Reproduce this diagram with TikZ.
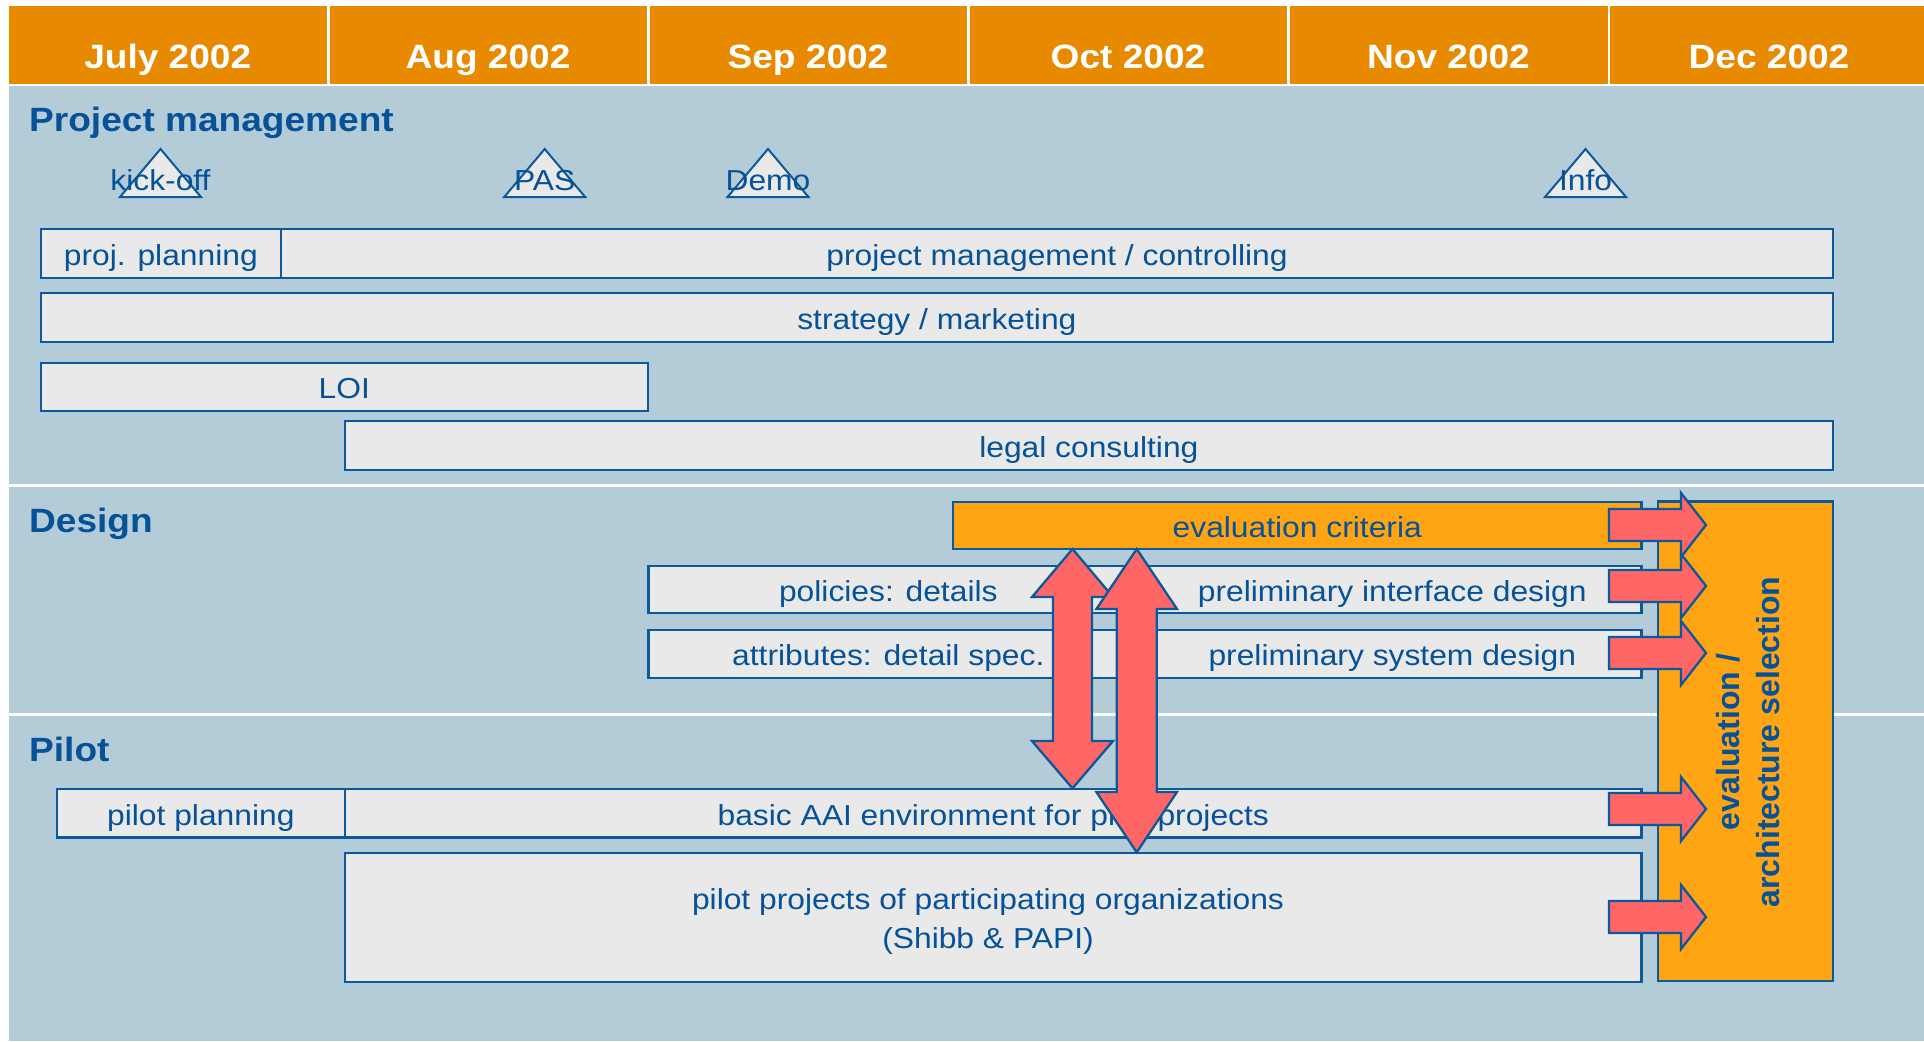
\documentclass[tikz,border=0pt]{standalone}
\usepackage{fontspec}
\setmainfont{Liberation Sans}[FakeStretch=1.1]
\newfontfamily\rotfont{Liberation Sans}
\definecolor{hdrorange}{RGB}{232,138,0}
\definecolor{bgblue}{RGB}{180,204,216}
\definecolor{lineblue}{RGB}{12,88,156}
\definecolor{txtblue}{RGB}{6,82,152}
\definecolor{barfill}{RGB}{233,233,233}
\definecolor{evalorange}{RGB}{255,164,18}
\definecolor{arrowred}{RGB}{255,102,102}
\newcommand\bodyfont{\fontsize{28.9}{34}\selectfont}
\newcommand\headfont{\bfseries\fontsize{33.7}{40}\selectfont}
\begin{document}
\begin{tikzpicture}[x=1pt,y=-1pt,
 bar/.style={draw=lineblue, line width=2.3pt, fill=barfill, text=txtblue, font=\bodyfont, inner sep=0pt, text height=25pt, text depth=1pt},
 orangebar/.style={bar, fill=evalorange},
 month/.style={fill=hdrorange, text=white, font=\headfont, inner sep=0pt, minimum height=78pt, text height=46pt, text depth=0pt},
 heading/.style={text=txtblue, font=\headfont, inner sep=0pt, anchor=base west},
 mstri/.style={draw=lineblue, line width=2pt, fill=barfill, line join=miter},
 mslabel/.style={text=txtblue, font=\bodyfont, inner sep=0pt, anchor=base},
 plaintext/.style={text=txtblue, font=\bodyfont, inner sep=0pt, anchor=base},
 blockarrow/.style={draw=lineblue, line width=2.3pt, fill=arrowred, line join=miter},
 sepline/.style={white, line width=3pt}
]
\useasboundingbox (0,0) rectangle (1924,1041);
\clip (0,0) rectangle (1924,1041);
\fill[white] (0,0) rectangle (1924,1041);
\fill[bgblue] (9,86) rectangle (1924,1041);
\coordinate (s1l) at (9,485);  \coordinate (s1r) at (1924,485);
\coordinate (s2l) at (9,714);  \coordinate (s2r) at (1924,714);
\draw[sepline] (s1l) -- (s1r);
\draw[sepline] (s2l) -- (s2r);

% header
\node[month, minimum width=317.5pt] (jul) at (167.75,45) {July 2002};
\node[month, minimum width=317pt] (aug) at (488,45) {Aug 2002};
\node[month, minimum width=317pt] (sep) at (808,45) {Sep 2002};
\node[month, minimum width=317pt] (oct) at (1128,45) {Oct 2002};
\node[month, minimum width=318pt] (nov) at (1448.5,45) {Nov 2002};
\node[month, minimum width=317.5pt] (dec) at (1769,45) {Dec 2002};

% section headings
\node[heading] (hpm) at (29,131) {Project management};
\node[heading] (hdes) at (29,532) {Design};
\node[heading] (hpil) at (29,761) {Pilot};

% milestones
\draw[mstri] (120,197) -- (160.5,149) -- (201,197) -- cycle;
\node[mslabel] (kickoff) at (160.5,190) {kick-off};
\draw[mstri] (504.2,197) -- (544.7,149) -- (585.2,197) -- cycle;
\node[mslabel] (pas) at (544.7,190) {PAS};
\draw[mstri] (727.5,197) -- (768,149) -- (808.5,197) -- cycle;
\node[mslabel] (demo) at (768,190) {Demo};
\draw[mstri] (1545,197) -- (1585.5,149) -- (1626,197) -- cycle;
\node[mslabel] (info) at (1585.5,190) {Info};

% project management bars
\node[bar, minimum width=240.3pt, minimum height=48.7pt] (projplan) at (160.85,253.65) {proj. planning};
\node[bar, minimum width=1552pt, minimum height=48.7pt] (pmc) at (1057,253.65) {project management / controlling};
\node[bar, minimum width=1792.3pt, minimum height=48.7pt] (strat) at (936.85,317.65) {strategy / marketing};
\node[bar, minimum width=607.3pt, minimum height=48pt] (loi) at (344.35,386.7) {LOI};
\node[bar, minimum width=1488.3pt, minimum height=48.7pt] (legal) at (1088.85,445.65) {legal consulting};

% design bars
\node[orangebar, minimum width=688.5pt, minimum height=47pt] (evalcrit) at (1297.25,525.5) {evaluation criteria};
\node[bar, minimum width=479.4pt, minimum height=47.3pt] (policies) at (888.3,589.65) {policies: details};
\node[bar, minimum width=498.5pt, minimum height=47.3pt] (prelimif) at (1392.25,589.65) {preliminary interface design};
\node[bar, minimum width=479.4pt, minimum height=47.7pt] (attrib) at (888.3,653.85) {attributes: detail spec.};
\node[bar, minimum width=498.5pt, minimum height=47.7pt] (prelimsys) at (1392.25,653.85) {preliminary system design};

% pilot bars
\node[bar, minimum width=288.3pt, minimum height=48.2pt] (pilotplan) at (200.85,813.4) {pilot planning};
\node[bar, minimum width=1296.5pt, minimum height=48.2pt] (basicaai) at (993.25,813.4) {basic AAI environment for pilot projects};
\node[bar, minimum width=1296.5pt, minimum height=128.4pt] (pilotproj) at (993.25,917.5) {};
\node[plaintext] (pptext1) at (988,909.3) {pilot projects of participating organizations};
\node[plaintext] (pptext2) at (988,948.3) {(Shibb \& PAPI)};

% evaluation / architecture selection
\node[draw=lineblue, line width=2.3pt, fill=evalorange, minimum width=175pt, minimum height=479.5pt, inner sep=0pt] (evalsel) at (1745.5,741.25) {};
\node[rotate=90, align=center, text=txtblue, inner sep=0pt, font=\rotfont\bfseries\fontsize{32}{40}\selectfont] (evaltext) at (1748.5,742) {evaluation /\\architecture selection};

% vertical double arrows
\draw[blockarrow] (1072.5,549) -- (1113,597) -- (1092,597) -- (1092,741) -- (1113,741) -- (1072.5,788.3) -- (1032,741) -- (1053,741) -- (1053,597) -- (1032,597) -- cycle;
\draw[blockarrow] (1136.7,549) -- (1177,609) -- (1156.7,609) -- (1156.7,792) -- (1177,792) -- (1136.7,852.3) -- (1096.4,792) -- (1116.7,792) -- (1116.7,609) -- (1096.4,609) -- cycle;

% right arrows into evaluation box
\foreach \yy in {525,586,653,809,917} {
  \draw[blockarrow] (1609,\yy-16) -- (1681,\yy-16) -- (1681,\yy-32) -- (1706,\yy) -- (1681,\yy+32) -- (1681,\yy+16) -- (1609,\yy+16) -- cycle;
}
\end{tikzpicture}
\end{document}
